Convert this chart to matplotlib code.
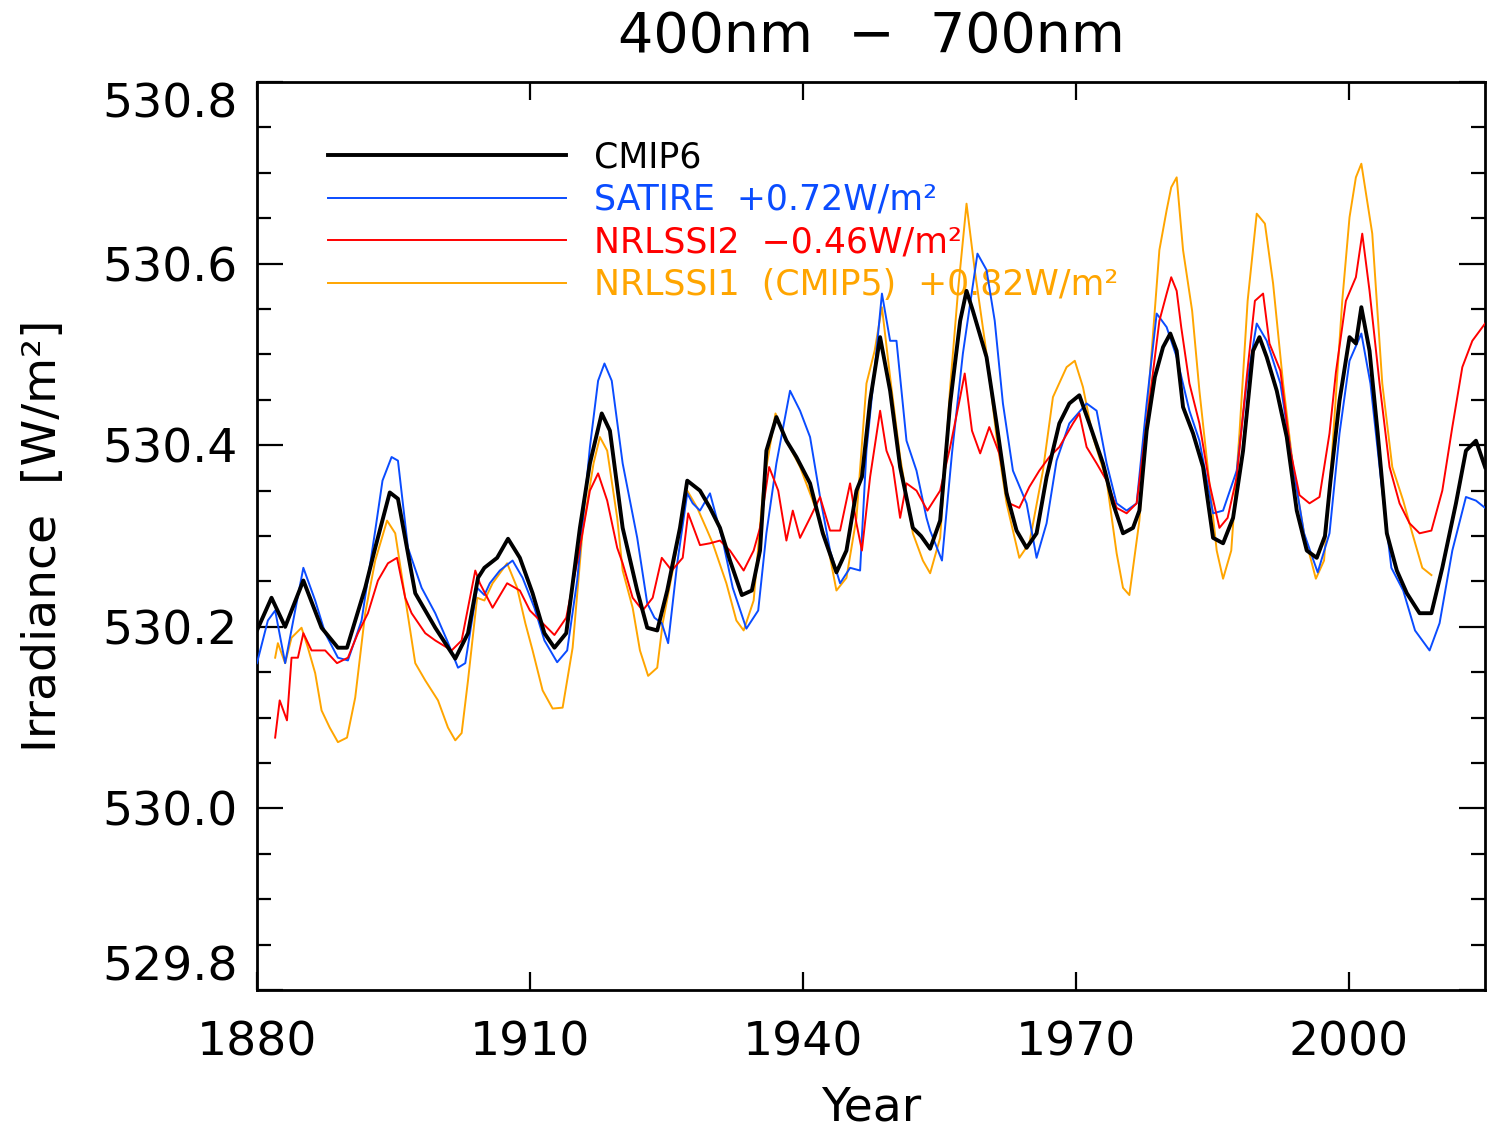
import numpy as np
import matplotlib
matplotlib.use("Agg")
import matplotlib.pyplot as plt
from matplotlib.ticker import MultipleLocator, FormatStrFormatter

# values (irradiance 400-700nm, W/m^2)
cmip6_years = [1880.0, 1881.6, 1883.1, 1885.1, 1887.1, 1888.9, 1889.9, 1891.9, 1893.0, 1894.6,
               1895.5, 1897.4, 1899.6, 1901.8, 1903.2, 1904.3, 1905.0, 1906.4, 1907.6, 1908.9,
               1910.3, 1911.6, 1912.7, 1914.0, 1915.5, 1916.6, 1917.9, 1918.8, 1920.2, 1921.8,
               1922.9, 1924.0, 1925.1, 1926.5, 1927.3, 1928.7, 1929.8, 1930.9, 1932.0, 1933.3,
               1934.4, 1935.3, 1936.0, 1937.1, 1938.2, 1939.3, 1940.8, 1942.2, 1943.7, 1944.8,
               1945.9, 1946.5, 1947.4, 1948.5, 1949.6, 1950.7, 1952.1, 1953.0, 1954.0, 1955.1,
               1956.2, 1957.3, 1958.0, 1958.7, 1960.2, 1961.3, 1962.4, 1963.5, 1964.6, 1965.7,
               1966.8, 1968.2, 1969.3, 1970.4, 1971.5, 1973.0, 1974.1, 1975.2, 1976.3, 1977.0,
               1977.8, 1978.7, 1979.6, 1980.4, 1981.1, 1981.8, 1982.9, 1984.0, 1985.1, 1986.2,
               1987.3, 1988.4, 1989.5, 1990.2, 1991.0, 1992.1, 1993.2, 1994.3, 1995.4, 1996.5,
               1997.4, 1998.0, 1999.0, 2000.1, 2000.8, 2001.4, 2002.3, 2003.2, 2004.2, 2005.3,
               2006.4, 2007.8, 2009.1, 2010.3, 2011.8, 2012.9, 2014.0, 2015.0]
cmip6_vals = [530.196, 530.232, 530.200, 530.251, 530.199, 530.177, 530.177, 530.243, 530.287, 530.348,
              530.341, 530.237, 530.199, 530.165, 530.193, 530.254, 530.265, 530.276, 530.297, 530.276,
              530.237, 530.193, 530.177, 530.193, 530.309, 530.380, 530.435, 530.416, 530.309, 530.240,
              530.199, 530.196, 530.240, 530.309, 530.361, 530.350, 530.331, 530.309, 530.273, 530.235,
              530.240, 530.284, 530.394, 530.431, 530.405, 530.387, 530.358, 530.303, 530.260, 530.284,
              530.350, 530.365, 530.449, 530.519, 530.460, 530.376, 530.309, 530.300, 530.286, 530.317,
              530.446, 530.537, 530.570, 530.548, 530.497, 530.424, 530.347, 530.306, 530.287, 530.303,
              530.365, 530.424, 530.446, 530.455, 530.424, 530.380, 530.336, 530.303, 530.309, 530.328,
              530.416, 530.475, 530.508, 530.523, 530.504, 530.442, 530.413, 530.376, 530.298, 530.292,
              530.320, 530.394, 530.504, 530.519, 530.497, 530.460, 530.409, 530.328, 530.284, 530.276,
              530.300, 530.360, 530.449, 530.519, 530.512, 530.552, 530.504, 530.413, 530.303, 530.262,
              530.237, 530.215, 530.215, 530.265, 530.336, 530.394, 530.405, 530.376]

satire_years = [1880.0, 1881.2, 1882.0, 1883.1, 1884.2, 1885.1, 1886.4, 1887.5, 1888.9, 1890.0,
                1891.5, 1893.0, 1893.8, 1894.8, 1895.5, 1896.6, 1898.1, 1899.6, 1900.9, 1902.1,
                1902.9, 1904.2, 1905.0, 1905.6, 1906.7, 1908.1, 1909.2, 1910.5, 1911.6, 1913.0,
                1914.1, 1915.2, 1916.6, 1917.5, 1918.2, 1919.0, 1920.2, 1921.8, 1922.9, 1923.7,
                1924.5, 1925.2, 1926.2, 1927.3, 1927.9, 1928.7, 1929.8, 1931.2, 1932.3, 1933.8,
                1935.1, 1936.0, 1937.1, 1938.6, 1939.7, 1940.8, 1941.9, 1943.0, 1944.1, 1945.2,
                1946.3, 1947.0, 1948.1, 1948.7, 1949.6, 1950.3, 1951.4, 1952.5, 1953.6, 1954.0,
                1955.3, 1956.4, 1957.6, 1959.2, 1960.2, 1961.1, 1962.0, 1963.1, 1964.6, 1965.7,
                1966.8, 1967.9, 1969.3, 1971.2, 1972.3, 1973.4, 1974.5, 1975.6, 1976.7, 1977.8,
                1978.9, 1980.0, 1981.1, 1982.5, 1983.6, 1985.1, 1986.2, 1987.7, 1988.8, 1989.9,
                1991.0, 1992.5, 1993.9, 1995.1, 1996.6, 1997.9, 1999.0, 2000.1, 2001.4, 2002.4,
                2003.6, 2004.7, 2006.0, 2007.3, 2008.9, 2010.0, 2011.4, 2012.9, 2014.0, 2015.0]
satire_vals = [530.160, 530.207, 530.218, 530.160, 530.218, 530.265, 530.229, 530.193, 530.166, 530.163,
               530.207, 530.306, 530.361, 530.387, 530.383, 530.287, 530.243, 530.215, 530.185, 530.155,
               530.160, 530.243, 530.235, 530.248, 530.262, 530.273, 530.254, 530.221, 530.185, 530.161,
               530.174, 530.251, 530.398, 530.471, 530.490, 530.471, 530.380, 530.298, 530.226, 530.210,
               530.204, 530.182, 530.270, 530.347, 530.336, 530.328, 530.347, 530.295, 530.243, 530.198,
               530.218, 530.303, 530.380, 530.460, 530.438, 530.409, 530.343, 530.284, 530.248, 530.265,
               530.262, 530.394, 530.504, 530.567, 530.515, 530.515, 530.405, 530.372, 530.320, 530.306,
               530.273, 530.391, 530.501, 530.611, 530.593, 530.537, 530.446, 530.372, 530.336, 530.276,
               530.314, 530.383, 530.424, 530.446, 530.438, 530.380, 530.336, 530.328, 530.336, 530.446,
               530.545, 530.530, 530.497, 530.438, 530.405, 530.325, 530.328, 530.372, 530.468, 530.534,
               530.515, 530.468, 530.376, 530.303, 530.260, 530.303, 530.413, 530.493, 530.523, 530.468,
               530.358, 530.265, 530.240, 530.196, 530.174, 530.204, 530.284, 530.343, 530.339, 530.331]

nrl2_years = [1882.0, 1882.5, 1883.3, 1883.8, 1884.5, 1885.1, 1886.0, 1887.5, 1888.8, 1890.0,
              1891.1, 1892.2, 1893.3, 1894.4, 1895.4, 1896.3, 1897.0, 1898.5, 1899.6, 1901.4,
              1902.5, 1904.0, 1904.5, 1905.9, 1907.5, 1908.9, 1910.0, 1911.4, 1912.7, 1914.0,
              1915.5, 1916.6, 1917.5, 1918.5, 1919.6, 1920.2, 1921.3, 1922.4, 1923.5, 1924.5,
              1925.6, 1926.8, 1927.4, 1928.7, 1929.8, 1930.9, 1932.0, 1933.5, 1934.6, 1935.3,
              1936.3, 1937.3, 1938.2, 1938.9, 1939.7, 1940.8, 1941.9, 1943.0, 1944.1, 1945.2,
              1945.9, 1946.5, 1947.4, 1948.5, 1949.2, 1949.9, 1950.7, 1951.4, 1952.5, 1953.7,
              1955.1, 1956.2, 1957.3, 1957.8, 1958.6, 1959.5, 1960.5, 1961.6, 1962.7, 1963.8,
              1964.9, 1966.0, 1967.1, 1968.2, 1969.7, 1970.4, 1971.2, 1972.3, 1973.4, 1974.5,
              1975.6, 1976.7, 1977.8, 1979.2, 1980.0, 1980.5, 1981.1, 1981.6, 1982.5, 1983.6,
              1984.7, 1985.8, 1986.7, 1987.7, 1988.8, 1989.7, 1990.6, 1991.3, 1992.5, 1993.6,
              1994.6, 1995.7, 1996.8, 1997.9, 1998.6, 1999.7, 2000.8, 2001.5, 2002.3, 2003.4,
              2004.5, 2005.6, 2006.7, 2007.8, 2009.1, 2010.3, 2011.4, 2012.5, 2013.6, 2015.0]
nrl2_vals = [530.078, 530.119, 530.097, 530.166, 530.166, 530.193, 530.174, 530.174, 530.160, 530.166,
             530.193, 530.215, 530.251, 530.270, 530.276, 530.232, 530.215, 530.193, 530.185, 530.174,
             530.185, 530.262, 530.248, 530.221, 530.248, 530.240, 530.218, 530.204, 530.191, 530.210,
             530.287, 530.350, 530.369, 530.339, 530.287, 530.270, 530.232, 530.218, 530.232, 530.276,
             530.262, 530.276, 530.325, 530.290, 530.292, 530.295, 530.284, 530.262, 530.284, 530.309,
             530.376, 530.350, 530.295, 530.328, 530.298, 530.320, 530.343, 530.306, 530.306, 530.358,
             530.314, 530.284, 530.365, 530.438, 530.394, 530.376, 530.320, 530.358, 530.350, 530.328,
             530.350, 530.398, 530.453, 530.479, 530.416, 530.391, 530.420, 530.391, 530.336, 530.331,
             530.354, 530.372, 530.387, 530.398, 530.424, 530.435, 530.398, 530.380, 530.361, 530.331,
             530.325, 530.336, 530.424, 530.537, 530.567, 530.585, 530.570, 530.530, 530.468, 530.424,
             530.358, 530.309, 530.320, 530.365, 530.475, 530.559, 530.567, 530.512, 530.482, 530.394,
             530.345, 530.336, 530.343, 530.413, 530.480, 530.559, 530.585, 530.633, 530.570, 530.468,
             530.376, 530.336, 530.314, 530.303, 530.306, 530.350, 530.420, 530.486, 530.515, 530.534]

nrl1_years = [1882.0, 1882.3, 1883.1, 1883.8, 1884.9, 1885.6, 1886.4, 1887.1, 1888.0, 1888.9,
              1889.9, 1890.8, 1891.9, 1893.0, 1894.3, 1895.2, 1896.0, 1897.4, 1898.5, 1899.9,
              1901.0, 1901.8, 1902.5, 1903.2, 1904.2, 1905.0, 1905.9, 1907.5, 1908.6, 1909.5,
              1910.3, 1911.4, 1912.5, 1913.6, 1914.7, 1915.8, 1917.0, 1917.7, 1918.5, 1919.6,
              1920.2, 1921.3, 1922.1, 1923.0, 1924.0, 1924.6, 1925.7, 1927.3, 1928.4, 1929.5,
              1930.1, 1931.6, 1932.7, 1933.5, 1934.6, 1935.7, 1937.0, 1938.2, 1939.7, 1941.1,
              1942.7, 1943.7, 1944.8, 1945.9, 1947.0, 1947.9, 1948.7, 1949.6, 1950.7, 1952.1,
              1953.2, 1954.0, 1955.1, 1956.2, 1957.1, 1958.0, 1958.9, 1960.2, 1961.3, 1962.4,
              1963.8, 1964.9, 1966.4, 1967.5, 1969.0, 1969.9, 1970.8, 1971.9, 1973.4, 1974.5,
              1975.2, 1975.9, 1977.0, 1978.1, 1979.2, 1980.0, 1980.5, 1981.1, 1981.8, 1982.8,
              1983.6, 1984.7, 1985.5, 1986.2, 1987.1, 1988.0, 1988.9, 1989.9, 1990.8, 1991.7,
              1992.8, 1993.9, 1995.1, 1996.4, 1997.3, 1998.2, 1999.3, 2000.1, 2000.8, 2001.4,
              2002.6, 2003.7, 2004.8, 2006.0, 2007.0, 2008.1, 2009.1]
nrl1_vals = [530.166, 530.182, 530.160, 530.188, 530.199, 530.177, 530.149, 530.108, 530.089, 530.073,
             530.078, 530.122, 530.215, 530.273, 530.317, 530.303, 530.251, 530.160, 530.141, 530.119,
             530.089, 530.075, 530.083, 530.141, 530.232, 530.229, 530.248, 530.270, 530.243, 530.204,
             530.174, 530.130, 530.110, 530.111, 530.177, 530.306, 530.380, 530.409, 530.394, 530.320,
             530.262, 530.221, 530.174, 530.146, 530.155, 530.204, 530.262, 530.350, 530.331, 530.306,
             530.292, 530.248, 530.207, 530.196, 530.229, 530.358, 530.435, 530.405, 530.376, 530.339,
             530.292, 530.240, 530.254, 530.320, 530.468, 530.504, 530.552, 530.475, 530.387, 530.303,
             530.273, 530.259, 530.298, 530.464, 530.574, 530.666, 530.593, 530.501, 530.409, 530.336,
             530.276, 530.292, 530.372, 530.453, 530.486, 530.493, 530.464, 530.409, 530.361, 530.281,
             530.243, 530.235, 530.317, 530.470, 530.615, 530.659, 530.684, 530.695, 530.615, 530.548,
             530.460, 530.358, 530.284, 530.253, 530.284, 530.413, 530.559, 530.655, 530.644, 530.578,
             530.468, 530.376, 530.303, 530.253, 530.273, 530.394, 530.559, 530.651, 530.695, 530.710,
             530.633, 530.468, 530.376, 530.339, 530.303, 530.265, 530.257]

year_ticks = [1880, 1910, 1940, 1970, 2000]
irr_ticks = [529.8, 530.0, 530.2, 530.4, 530.6, 530.8]
labels = ["CMIP6", "SATIRE  +0.72W/m²", "NRLSSI2  \u22120.46W/m²", "NRLSSI1  (CMIP5)  +0.82W/m²"]
colors = ["black", "#0a4cff", "#ff0000", "#ffa500"]

plt.rcParams["font.family"] = "DejaVu Sans"

fig = plt.figure(figsize=(14.87, 11.28), dpi=100)
ax = fig.add_axes([0.1728, 0.1223, 0.8259, 0.805])

ax.plot(cmip6_years, cmip6_vals, color=colors[0], lw=2.8, label=labels[0], zorder=4)
ax.plot(satire_years, satire_vals, color=colors[1], lw=1.4, label=labels[1], zorder=3)
ax.plot(nrl2_years, nrl2_vals, color=colors[2], lw=1.4, label=labels[2], zorder=3)
ax.plot(nrl1_years, nrl1_vals, color=colors[3], lw=1.4, label=labels[3], zorder=2)

ax.set_xlim(1880, 2015)
ax.set_ylim(529.8, 530.8)
ax.set_xticks(year_ticks)
ax.set_yticks(irr_ticks)
ax.yaxis.set_minor_locator(MultipleLocator(0.05))
ax.yaxis.set_major_formatter(FormatStrFormatter("%.1f"))

ax.tick_params(axis="both", which="both", direction="in", top=True, right=True, width=1.6)
ax.tick_params(axis="y", which="major", length=19, labelsize=34, pad=14)
ax.tick_params(axis="y", which="minor", length=10)
ax.tick_params(axis="x", which="major", length=13, labelsize=34, pad=22)
for s in ax.spines.values():
    s.set_linewidth(2)

# end labels sit inside the axis range, as in the original
yt = ax.yaxis.get_major_ticks()
yt[0].label1.set_va("bottom")
yt[-1].label1.set_va("top")

ax.set_xlabel("Year", fontsize=34, labelpad=14)
ax.set_ylabel("Irradiance  [W/m²]", fontsize=34, labelpad=26)
ax.set_title("400nm  \u2212  700nm", fontsize=40, pad=22)

leg = ax.legend(loc="upper left", bbox_to_anchor=(0.044, 0.955), frameon=False, fontsize=25,
                handlelength=6.85, handletextpad=0.8, labelspacing=0.25, borderpad=0)
for txt, c in zip(leg.get_texts(), colors):
    txt.set_color(c)
leg.set_zorder(1)

fig.savefig("out.png", dpi=100)
